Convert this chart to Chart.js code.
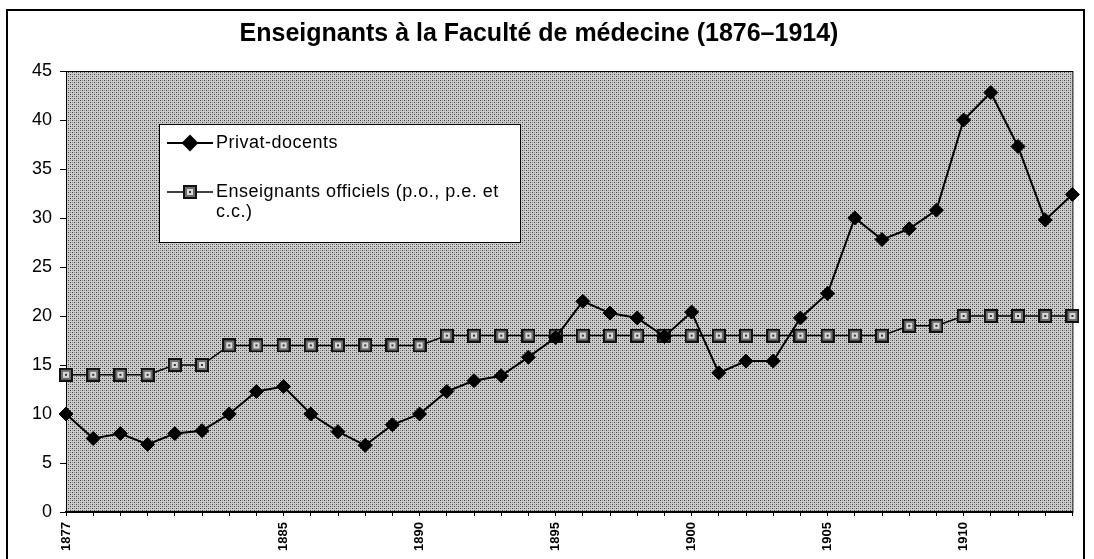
<!DOCTYPE html>
<html>
<head>
<meta charset="utf-8">
<script src="https://cdn.jsdelivr.net/npm/chart.js@4.4.1/dist/chart.umd.min.js"></script>
<style>
  html, body { margin: 0; padding: 0; background: #ffffff; }
  canvas { display: block; }
</style>
</head>
<body>
<canvas id="chart" width="1094" height="559"></canvas>
<script>
const years = ['1877', '1878', '1879', '1880', '1881', '1882', '1883', '1884', '1885', '1886',
    '1887', '1888', '1889', '1890', '1891', '1892', '1893', '1894', '1895', '1896',
    '1897', '1898', '1899', '1900', '1901', '1902', '1903', '1904', '1905', '1906',
    '1907', '1908', '1909', '1910', '1911', '1912', '1913', '1914'];

const privatDocents = [10, 7.5, 8, 6.9, 8, 8.3, 10, 12.3, 12.8, 10,
    8.2, 6.8, 8.9, 10, 12.3, 13.4, 13.9, 15.8, 17.8, 21.5,
    20.3, 19.8, 17.9, 20.4, 14.2, 15.4, 15.4, 19.8, 22.3, 30,
    27.8, 28.9, 30.8, 40, 42.8, 37.3, 29.8, 32.4];

const officiels = [14, 14, 14, 14, 15, 15, 17, 17, 17, 17,
    17, 17, 17, 17, 18, 18, 18, 18, 18, 18,
    18, 18, 18, 18, 18, 18, 18, 18, 18, 18,
    18, 19, 19, 20, 20, 20, 20, 20];

const xTickLabels = ['1877', '1885', '1890', '1895', '1900', '1905', '1910'];

const titleText = 'Enseignants à la Faculté de médecine (1876–1914)';
const seriesNames = ['Privat-docents', 'Enseignants officiels (p.o., p.e. et c.c.)'];

// fond pointillé de la zone de tracé
function makeDotPattern(ctx) {
    const tile = document.createElement('canvas');
    tile.width = 4;
    tile.height = 4;
    const t = tile.getContext('2d');
    t.fillStyle = '#cdcdcd';
    t.fillRect(0, 0, 4, 4);
    t.fillStyle = '#3c3c3c';
    t.fillRect(0, 0, 1, 1);
    t.fillRect(2, 2, 1, 1);
    t.fillStyle = '#909090';
    t.fillRect(2, 0, 1, 1);
    t.fillRect(0, 2, 1, 1);
    return ctx.createPattern(tile, 'repeat');
}

// marqueur carré hachuré
function makeSquareMarker() {
    const c = document.createElement('canvas');
    c.width = 14;
    c.height = 14;
    const m = c.getContext('2d');
    m.fillStyle = '#111';
    m.fillRect(0, 0, 14, 14);
    m.fillStyle = '#6e6e6e';
    m.fillRect(2, 2, 10, 10);
    m.fillStyle = '#d8d8d8';
    m.fillRect(4, 4, 6, 6);
    m.fillStyle = '#333';
    m.fillRect(6, 6, 2, 2);
    return c;
}

const squareMarker = makeSquareMarker();

const backgroundPlugin = {
    id: 'plotBackground',
    beforeDraw(chart) {
        const { ctx, chartArea: a } = chart;
        ctx.save();
        ctx.fillStyle = '#ffffff';
        ctx.fillRect(0, 0, chart.width, chart.height);
        ctx.fillStyle = makeDotPattern(ctx);
        ctx.fillRect(a.left, a.top, a.right - a.left, a.bottom - a.top);
        // cadre extérieur
        ctx.strokeStyle = '#000';
        ctx.lineWidth = 2;
        ctx.strokeRect(7, 10, chart.width - 17, chart.height + 20);
        ctx.restore();
    },
    beforeDatasetsDraw(chart) {
        const { ctx, chartArea: a } = chart;
        ctx.save();
        ctx.strokeStyle = '#000';
        ctx.lineWidth = 1;
        ctx.strokeRect(a.left + 0.5, a.top + 0.5, a.right - a.left, a.bottom - a.top);
        ctx.restore();
    }
};

function wrapText(ctx, text, maxWidth) {
    const words = text.split(' ');
    const lines = [];
    let line = '';
    words.forEach(w => {
        const test = line ? line + ' ' + w : w;
        if (ctx.measureText(test).width > maxWidth && line) {
            lines.push(line);
            line = w;
        } else {
            line = test;
        }
    });
    lines.push(line);
    return lines;
}

const boxLegendPlugin = {
    id: 'boxLegend',
    afterDraw(chart) {
        const ctx = chart.ctx;
        const box = { x: 159, y: 124, w: 361, h: 118 };
        ctx.save();
        ctx.fillStyle = '#ffffff';
        ctx.fillRect(box.x, box.y, box.w, box.h);
        ctx.strokeStyle = '#000';
        ctx.lineWidth = 1;
        ctx.strokeRect(box.x + 0.5, box.y + 0.5, box.w, box.h);

        ctx.font = '18px "Liberation Sans", Arial, sans-serif';
        ctx.letterSpacing = '0.5px';
        ctx.textBaseline = 'middle';
        ctx.fillStyle = '#000';
        const rowY = [143, 192];
        chart.data.datasets.forEach((ds, i) => {
            const y = rowY[i];
            ctx.strokeStyle = '#000';
            ctx.lineWidth = ds.borderWidth;
            ctx.beginPath();
            ctx.moveTo(box.x + 8, y);
            ctx.lineTo(box.x + 54, y);
            ctx.stroke();
            Chart.helpers.drawPoint(ctx, {
                pointStyle: ds.pointStyle,
                radius: ds.pointRadius,
                rotation: 0,
                borderWidth: 1
            }, box.x + 31, y);
            ctx.fillStyle = '#000';
            const lines = wrapText(ctx, ds.label, box.w - 62);
            lines.forEach((ln, k) => ctx.fillText(ln, box.x + 57, y + k * 20));
        });
        ctx.restore();
    }
};

new Chart(document.getElementById('chart'), {
    type: 'line',
    data: {
        labels: years,
        datasets: [
            {
                label: seriesNames[0],
                data: privatDocents,
                borderColor: '#000',
                backgroundColor: '#000',
                borderWidth: 2,
                pointStyle: 'rectRot',
                pointRadius: 7,
                pointBorderWidth: 1,
                tension: 0
            },
            {
                label: seriesNames[1],
                data: officiels,
                borderColor: '#000',
                backgroundColor: '#000',
                borderWidth: 1.5,
                pointStyle: squareMarker,
                pointRadius: 7,
                tension: 0
            }
        ]
    },
    options: {
        responsive: false,
        devicePixelRatio: 1,
        animation: false,
        layout: { padding: { left: 0, right: 16, top: 0, bottom: 0 } },
        plugins: {
            legend: { display: false },
            tooltip: { enabled: false },
            title: {
                display: true,
                text: titleText,
                color: '#000',
                font: { family: '"Liberation Sans", Arial, sans-serif', size: 25, weight: 'bold' },
                padding: { top: 19, bottom: 22 }
            }
        },
        scales: {
            x: {
                offset: false,
                afterFit(scale) { scale.height = 47; },
                border: { display: true, color: '#000', width: 2 },
                grid: { display: true, drawOnChartArea: false, color: '#000', tickLength: 4 },
                ticks: {
                    autoSkip: false,
                    minRotation: 90,
                    maxRotation: 90,
                    padding: 6,
                    color: '#000',
                    font: { family: '"Liberation Sans", Arial, sans-serif', size: 13, weight: 'bold' },
                    callback(value) {
                        const lbl = this.getLabelForValue(value);
                        return xTickLabels.includes(lbl) ? lbl : '';
                    }
                }
            },
            y: {
                min: 0,
                max: 45,
                afterFit(scale) { scale.width = 66; },
                border: { display: true, color: '#000', width: 1 },
                grid: { display: true, drawOnChartArea: false, color: '#000', tickLength: 6 },
                ticks: {
                    stepSize: 5,
                    padding: 8,
                    color: '#000',
                    font: { family: '"Liberation Sans", Arial, sans-serif', size: 18 }
                }
            }
        }
    },
    plugins: [backgroundPlugin, boxLegendPlugin]
});
</script>
</body>
</html>
